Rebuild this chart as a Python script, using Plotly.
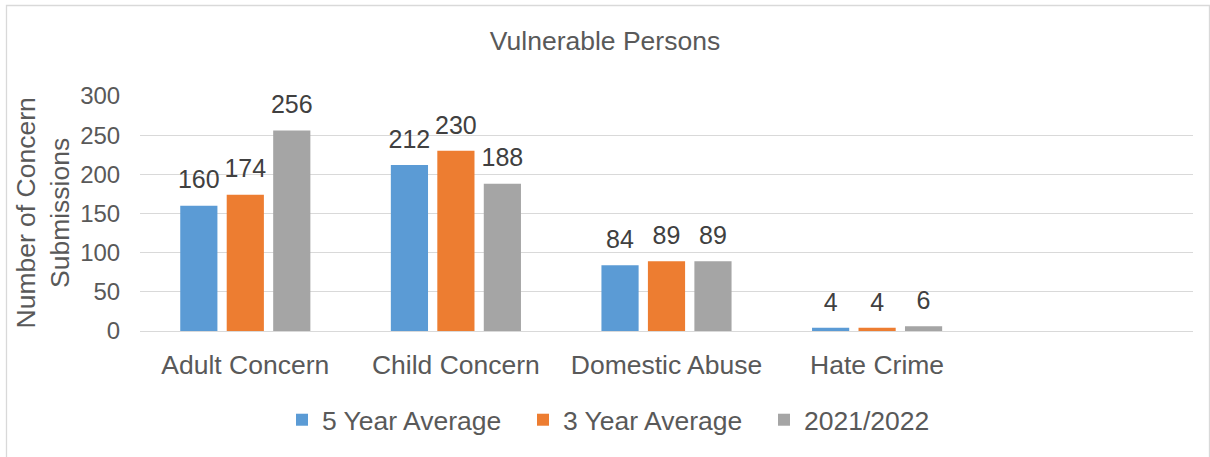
import plotly.graph_objects as go

categories = ["Adult Concern", "Child Concern", "Domestic Abuse", "Hate Crime"]
series_names = ["5 Year Average", "3 Year Average", "2021/2022"]
five_year = [160, 212, 84, 4]
three_year = [174, 230, 89, 4]
current = [256, 188, 89, 6]
colors = ["#5B9BD5", "#ED7D31", "#A5A5A5"]
y_ticks = [0, 50, 100, 150, 200, 250, 300]

W, H = 1210, 457
ML, MR, MT, MB = 140, 17, 96, 126
PW, PH = W - ML - MR, H - MT - MB

def px_x(p):
    return (p - ML) / PW

def px_y(p):
    return (H - MB - p) / PH

FONT = "Liberation Sans, Arial, sans-serif"
TXT = "#595959"
BIG = 26.5

fig = go.Figure()
series = [five_year, three_year, current]
for i, (name, vals, col) in enumerate(zip(series_names, series, colors)):
    fig.add_trace(go.Bar(
        x=categories, y=vals, name=name, offsetgroup=str(i),
        marker=dict(color=col, line=dict(width=0)),
        hoverinfo="skip",
    ))
for i, (name, vals) in enumerate(zip(series_names, series)):
    fig.add_trace(go.Scatter(
        x=categories, y=vals, name=name, offsetgroup=str(i), showlegend=False,
        mode="markers+text", text=[str(v) for v in vals], textposition="top center",
        marker=dict(size=16, color="rgba(0,0,0,0)"),
        textfont=dict(family=FONT, size=25, color="#404040"),
        cliponaxis=False, hoverinfo="skip",
    ))

fig.update_layout(
    width=W, height=H,
    margin=dict(l=ML, r=MR, t=MT, b=MB),
    paper_bgcolor="white", plot_bgcolor="white",
    barmode="group", bargap=0.338, bargroupgap=0.2,
    scattermode="group", scattergap=0.338,
    font=dict(family=FONT, color=TXT, size=24),
    hovermode=False,
    title=dict(text="Vulnerable Persons", x=0.5, xref="container", xanchor="center",
               y=1 - 41 / H, yref="container", yanchor="middle",
               font=dict(family=FONT, size=BIG, color=TXT)),
    legend=dict(orientation="h", x=282 / W, xref="container", xanchor="left",
                y=1 - 420 / H, yref="container", yanchor="middle",
                entrywidth=196, entrywidthmode="pixels",
                font=dict(family=FONT, size=BIG, color=TXT)),
    xaxis=dict(range=[-0.5, 4.5], showgrid=False, showline=True, linecolor="#D9D9D9",
               linewidth=1.3, ticks="outside", ticklen=10, tickcolor="rgba(0,0,0,0)",
               tickfont=dict(family=FONT, size=BIG, color=TXT), fixedrange=True),
    yaxis=dict(range=[0, 300], tickvals=y_ticks, showgrid=True, gridcolor="#D9D9D9",
               gridwidth=1.3, zeroline=False, showline=False, ticks="outside",
               ticklen=14, tickcolor="rgba(0,0,0,0)",
               tickfont=dict(family=FONT, size=24, color=TXT)),
    shapes=[
        dict(type="rect", xref="paper", yref="paper",
             x0=px_x(6.5), x1=px_x(1209.5), y0=px_y(462), y1=px_y(5.5),
             line=dict(color="#D9D9D9", width=1.3), fillcolor="rgba(0,0,0,0)", layer="below"),
    ],
    annotations=[
        dict(text="Number of Concern<br>Submissions", textangle=-90,
             xref="paper", yref="paper", x=px_x(42), y=0.5,
             xanchor="center", yanchor="middle", showarrow=False,
             font=dict(family=FONT, size=BIG, color=TXT)),
    ],
)

fig.write_html("out.html", config={"displayModeBar": False},
               post_script="document.body.style.margin='0';document.body.style.overflow='hidden';")
